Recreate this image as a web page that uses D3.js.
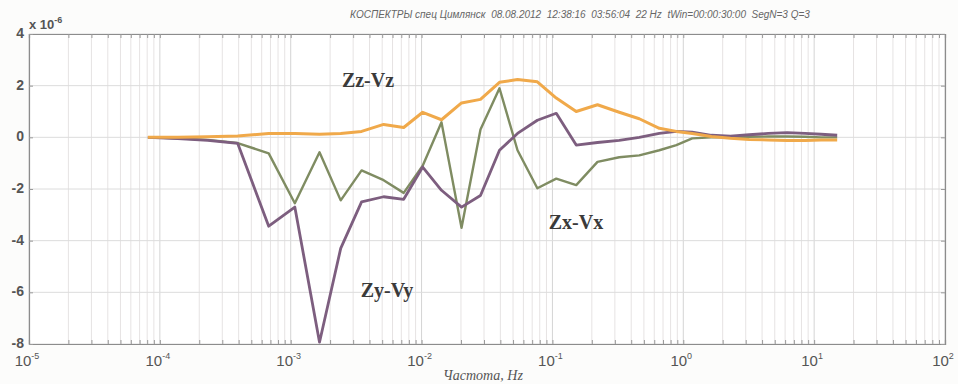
<!DOCTYPE html>
<html>
<head>
<meta charset="utf-8">
<script src="https://cdn.jsdelivr.net/npm/d3@7"></script>
<style>
  html, body { margin: 0; padding: 0; background: #fcfcfb; }
  svg { display: block; }
</style>
</head>
<body>
<svg id="chart" width="958" height="384"></svg>
<script>
// Frequency points, Hz
const freq = [8.1e-5, 1.37e-4, 2.32e-4, 3.93e-4, 6.79e-4, 1.075e-3, 1.66e-3, 2.41e-3, 3.48e-3,
  5.13e-3, 7.30e-3, 1.02e-2, 1.42e-2, 2.02e-2, 2.82e-2, 3.94e-2, 5.41e-2, 7.67e-2, 0.107,
  0.152, 0.221, 0.324, 0.461, 0.656, 0.885, 1.17, 1.64, 2.29, 3.19, 4.46, 6.22, 8.53, 11.3, 15.0];

// Cospectra, units of 1e-6
const zzVz = [0, 0, 0.02, 0.05, 0.15, 0.15, 0.12, 0.15, 0.23, 0.5, 0.38, 0.97, 0.68, 1.33,
  1.47, 2.13, 2.24, 2.15, 1.52, 1.0, 1.26, 0.97, 0.72, 0.35, 0.23, 0.15, 0.03, -0.04, -0.08,
  -0.1, -0.12, -0.12, -0.1, -0.1];
const zyVy = [0, -0.05, -0.12, -0.23, -3.44, -2.7, -7.93, -4.3, -2.5, -2.3, -2.4, -1.15, -2.05,
  -2.7, -2.25, -0.5, 0.15, 0.66, 0.93, -0.3, -0.2, -0.12, 0.0, 0.15, 0.23, 0.2, 0.08, 0.05,
  0.1, 0.15, 0.18, 0.15, 0.12, 0.08];
const zxVx = [0, -0.04, -0.1, -0.22, -0.62, -2.55, -0.58, -2.44, -1.28, -1.66, -2.15, -1.1, 0.58,
  -3.5, 0.3, 1.9, -0.5, -1.97, -1.6, -1.85, -0.95, -0.77, -0.7, -0.5, -0.3, -0.04, 0.0, 0.0,
  0.02, 0.03, 0.03, 0.02, 0.0, 0.0];

const yTicks = [-8, -6, -4, -2, 0, 2, 4];
const xDecades = [-5, -4, -3, -2, -1, 0, 1, 2];

const series = [
  { name: "Zx-Vx", values: zxVx, color: "#7f8c62", width: 2.4, label: [576, 222] },
  { name: "Zy-Vy", values: zyVy, color: "#7d5e7f", width: 2.8, label: [387, 290] },
  { name: "Zz-Vz", values: zzVz, color: "#f0a94a", width: 3, label: [368, 80] }
];

const title = "КОСПЕКТРЫ спец Цимлянск  08.08.2012  12:38:16  03:56:04  22 Hz  tWin=00:00:30:00  SegN=3 Q=3";
const xTitle = "Частота, Hz";

const m = { left: 29, right: 945, top: 34, bottom: 344 };

const svg = d3.select("#chart");
const x = d3.scaleLog().domain([1e-5, 1e2]).range([m.left, m.right]);
const y = d3.scaleLinear().domain([-8, 4]).range([m.bottom, m.top]);

// plot background
svg.append("rect").attr("x", m.left).attr("y", m.top)
  .attr("width", m.right - m.left).attr("height", m.bottom - m.top).attr("fill", "#ffffff");

// vertical grid: every 1..9 step of each decade
const xt = x.ticks();
const isDecade = d => Math.abs(Math.log10(d) - Math.round(Math.log10(d))) < 1e-9;
svg.append("g").selectAll("line").data(xt).join("line")
  .attr("x1", d => x(d)).attr("x2", d => x(d))
  .attr("y1", m.top).attr("y2", m.bottom)
  .attr("stroke", d => isDecade(d) ? "#d4d4d4" : "#e6e3e3")
  .attr("stroke-width", 1);

// horizontal grid
svg.append("g").selectAll("line").data(yTicks).join("line")
  .attr("x1", m.left).attr("x2", m.right)
  .attr("y1", d => y(d)).attr("y2", d => y(d))
  .attr("stroke", "#dcdcdc").attr("stroke-width", 1);

// axes with inward ticks
const tickColor = "#9a9a9a";
const gx = svg.append("g").attr("transform", `translate(0,${m.bottom})`)
  .call(d3.axisBottom(x).tickValues(xt).tickSize(-4).tickFormat(""));
const gxTop = svg.append("g").attr("transform", `translate(0,${m.top})`)
  .call(d3.axisTop(x).tickValues(xt).tickSize(-4).tickFormat(""));
const gy = svg.append("g").attr("transform", `translate(${m.left},0)`)
  .call(d3.axisLeft(y).tickValues(yTicks).tickSize(-4).tickFormat(""));
const gyR = svg.append("g").attr("transform", `translate(${m.right},0)`)
  .call(d3.axisRight(y).tickValues(yTicks).tickSize(-4).tickFormat(""));
[gx, gxTop, gy, gyR].forEach(g => {
  g.selectAll("path").attr("stroke", "#8c8c8c").attr("stroke-width", 1.2);
  g.selectAll("line").attr("stroke", tickColor);
});

// y tick labels
svg.append("g").selectAll("text").data(yTicks).join("text")
  .attr("x", m.left - 5).attr("y", d => y(d) + 4)
  .attr("text-anchor", "end")
  .attr("font-family", "Liberation Sans, Arial, sans-serif")
  .attr("font-size", 14).attr("font-weight", "bold").attr("fill", "#555")
  .text(d => d);

// exponent label of y axis
const ex = svg.append("text").attr("x", 29).attr("y", 29)
  .attr("font-family", "Liberation Sans, Arial, sans-serif")
  .attr("font-size", 13).attr("font-weight", "bold").attr("fill", "#555");
ex.append("tspan").text("x 10");
ex.append("tspan").attr("dy", -6).attr("font-size", 9).text("-6");

// x tick labels 10^n
const xl = svg.append("g").selectAll("text").data(xDecades).join("text")
  .attr("x", d => x(Math.pow(10, d)) - 2).attr("y", 366)
  .attr("text-anchor", "middle")
  .attr("font-family", "Liberation Sans, Arial, sans-serif")
  .attr("font-size", 15).attr("fill", "#555");
xl.append("tspan").text("10");
xl.append("tspan").attr("dy", -7).attr("font-size", 9).text(d => d);

// title
svg.append("text").attr("x", 580).attr("y", 18)
  .attr("text-anchor", "middle")
  .attr("font-family", "Liberation Sans, Arial, sans-serif")
  .attr("font-style", "italic").attr("font-size", 10).attr("fill", "#666")
  .attr("xml:space", "preserve")
  .text(title);

// x axis title
svg.append("text").attr("x", 483).attr("y", 380)
  .attr("text-anchor", "middle")
  .attr("font-family", "Liberation Serif, Times New Roman, serif")
  .attr("font-style", "italic").attr("font-size", 14).attr("fill", "#555")
  .text(xTitle);

// curves
const line = d3.line().x((d, i) => x(freq[i])).y(d => y(d));
svg.append("g").selectAll("path").data(series).join("path")
  .attr("d", d => line(d.values))
  .attr("fill", "none")
  .attr("stroke", d => d.color)
  .attr("stroke-width", d => d.width)
  .attr("stroke-linejoin", "round");

// curve names
svg.append("g").selectAll("text").data(series).join("text")
  .attr("x", d => d.label[0]).attr("y", d => d.label[1] + 7)
  .attr("text-anchor", "middle")
  .attr("font-family", "Liberation Serif, Times New Roman, serif")
  .attr("font-weight", "bold").attr("font-size", 20).attr("fill", "#3a3a3a")
  .text(d => d.name);
</script>
</body>
</html>
